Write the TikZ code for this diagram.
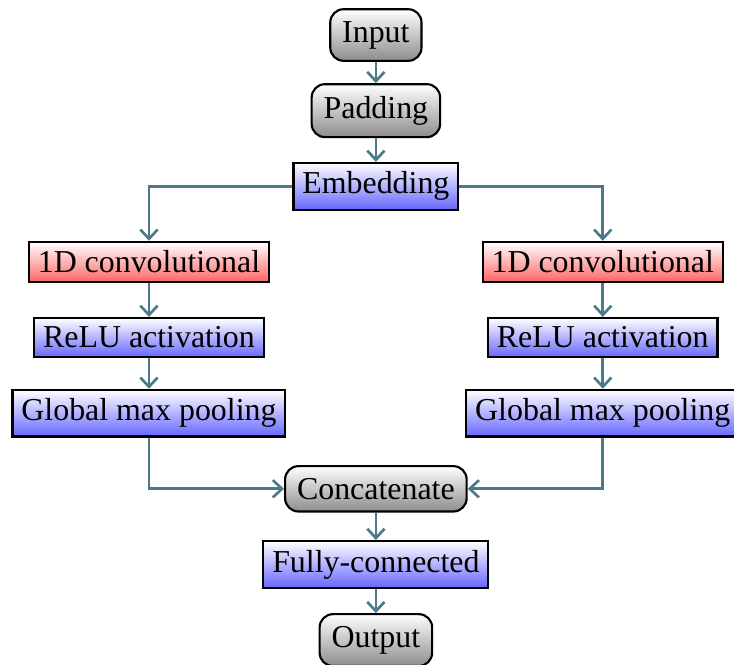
\documentclass[tikz,border=0pt]{standalone}
\usepackage{fontspec}
\setmainfont{Liberation Serif}
\usepackage{tikz}
\usetikzlibrary{positioning}
\usetikzlibrary{arrows.meta}
\tikzset{>={Straight Barb[length=3.5pt,width=6.5pt]}}
\definecolor{linkcol}{RGB}{75,122,138}

\begin{document}
\begin{tikzpicture}[font=\large, node distance=1cm and 3cm, on grid,
    graynode/.style={rectangle, rounded corners=5pt, inner sep=4.5pt, draw=black, thick, top color=white, bottom color=black!45},
    bluenode/.style={rectangle, draw=black, thick, top color=white, bottom color=blue!60},
    rednode/.style={rectangle, draw=black, thick, top color=white, bottom color=red!60},
    link/.style={->, line width=1pt, draw=linkcol} ]

    \useasboundingbox (-4.97,0.463) rectangle (4.735,-8.32);

    %Nodes
    \node[graynode] (input) {Input};
    \node[graynode] (padding) [below=of input] {Padding};
    \node[bluenode] (embedding) [below=of padding] {Embedding};
    \node[rednode] (conv_l) [below left=1cm and 3cm of embedding] {1D convolutional};
    \node[rednode] (conv_r) [below right=1cm and 3cm of embedding] {1D convolutional};
    \node[bluenode] (relu_l) [below=of conv_l] {ReLU activation};
    \node[bluenode] (relu_r) [below=of conv_r] {ReLU activation};
    \node[bluenode] (pool_l) [below=of relu_l] {Global max pooling};
    \node[bluenode] (pool_r) [below=of relu_r] {Global max pooling};
    \node[graynode] (concat) [below=4cm of embedding] {Concatenate};
    \node[bluenode] (dense) [below=of concat] {Fully-connected};
    \node[graynode] (output) [below=of dense] {Output};

    %Lines
    \draw[link] (input) -- (padding);
    \draw[link] (padding) -- (embedding);
    \draw[link] (embedding.west) -| (conv_l.north);
    \draw[link] (embedding.east) -| (conv_r.north);
    \draw[link] (conv_l) -- (relu_l);
    \draw[link] (conv_r) -- (relu_r);
    \draw[link] (relu_l) -- (pool_l);
    \draw[link] (relu_r) -- (pool_r);
    \draw[link] (pool_l.south) |- (concat.west);
    \draw[link] (pool_r.south) |- (concat.east);
    \draw[link] (concat) -- (dense);
    \draw[link] (dense) -- (output);
\end{tikzpicture}
\end{document}
